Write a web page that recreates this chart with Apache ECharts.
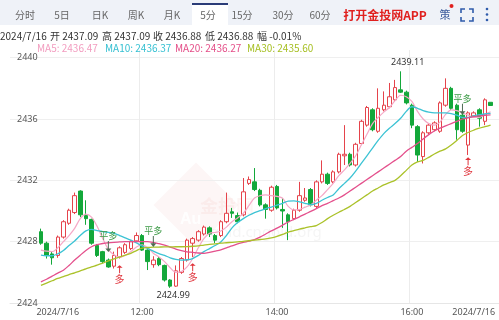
<!DOCTYPE html>
<html><head><meta charset="utf-8">
<script src="https://cdn.jsdelivr.net/npm/echarts@6/dist/echarts.min.js"></script>
<style>html,body{margin:0;padding:0;background:#fff}#c{width:499px;height:320px}</style>
</head><body><div id="c"></div>
<script>
// ---------- data ----------
const dateText = '2024/7/16';
const changeText = '-0.01%';
const startTime = [10, 30];           // first bar 10:30, 5-minute bars
const tickIndex = [3, 18, 42, 66, 77];
const tickText = ['2024/7/16', '12:00', '14:00', '16:00', '2024/7/16'];
const splitIndex = [18, 42, 66];
const yTicks = [2424, 2428, 2432, 2436, 2440];
const tabs = ['分时', '5日', '日K', '周K', '月K', '5分', '15分', '30分', '60分'];

// [open, close, low, high]
const ohlc = [
[2428.65,2427.9,2427.8,2428.85],[2427.9,2427.1,2426.9,2428.0],[2427.2,2426.95,2426.5,2427.35],
[2427.1,2428.3,2426.95,2428.4],[2428.3,2429.3,2428.2,2429.4],[2429.2,2430.05,2429.1,2430.15],
[2429.9,2431.0,2429.8,2431.2],[2431.3,2429.75,2429.6,2431.35],[2429.7,2429.5,2429.1,2430.7],
[2429.45,2427.9,2427.8,2429.5],[2427.75,2427.1,2427.0,2427.85],[2427.35,2426.7,2426.6,2427.4],
[2426.8,2426.35,2426.3,2426.9],[2426.4,2427.1,2426.25,2427.35],[2427.0,2427.6,2426.9,2427.7],
[2427.3,2427.8,2427.2,2427.9],[2427.55,2428.0,2427.45,2428.1],[2428.05,2428.4,2428.0,2428.6],
[2428.4,2427.45,2427.4,2428.5],[2427.45,2426.7,2426.15,2427.5],[2426.5,2426.8,2426.3,2427.05],
[2426.9,2426.5,2426.4,2427.0],[2426.45,2425.5,2425.4,2426.5],[2425.5,2425.1,2424.99,2425.55],
[2425.1,2426.1,2425.05,2426.45],[2426.0,2426.9,2425.9,2427.0],[2426.8,2428.1,2426.7,2428.2],
[2427.9,2428.2,2427.0,2428.3],[2428.1,2428.65,2428.0,2428.75],[2428.5,2428.95,2428.4,2429.05],
[2428.9,2428.5,2428.3,2429.0],[2428.4,2428.1,2427.9,2428.5],[2428.4,2429.3,2428.3,2429.4],
[2429.3,2429.85,2429.2,2431.2],[2429.95,2429.85,2429.55,2430.2],[2429.7,2429.3,2429.2,2429.9],
[2429.75,2431.25,2429.65,2432.15],[2431.8,2432.05,2431.7,2432.25],[2431.9,2431.4,2431.3,2432.8],
[2431.35,2430.4,2430.3,2431.45],[2430.4,2430.1,2429.5,2430.5],[2430.05,2431.55,2429.95,2431.65],
[2431.6,2430.2,2430.1,2431.7],[2430.1,2430.0,2428.9,2430.85],[2429.75,2429.3,2428.1,2429.85],
[2429.5,2430.05,2429.4,2430.15],[2430.05,2431.0,2429.95,2431.9],[2430.7,2430.85,2430.6,2431.5],
[2431.4,2430.4,2430.3,2431.5],[2430.3,2431.9,2430.2,2432.0],[2431.9,2432.4,2431.8,2433.3],
[2432.4,2431.8,2431.7,2432.5],[2431.9,2432.55,2431.8,2432.65],[2432.55,2433.7,2432.45,2433.8],
[2433.6,2433.7,2433.0,2435.6],[2433.7,2433.0,2432.9,2433.8],[2433.0,2434.35,2432.9,2434.45],
[2434.4,2435.85,2434.3,2435.95],[2435.6,2436.75,2435.5,2436.85],[2436.6,2435.3,2435.2,2436.7],
[2435.2,2436.7,2435.1,2438.0],[2436.6,2436.9,2436.5,2437.8],[2436.8,2437.45,2436.7,2438.35],
[2437.25,2438.05,2437.15,2438.55],[2437.9,2437.75,2437.7,2439.11],[2437.75,2437.05,2436.95,2437.85],
[2436.9,2435.6,2435.4,2437.0],[2435.5,2433.65,2433.2,2435.6],[2433.55,2435.1,2433.1,2435.2],
[2435.1,2435.6,2435.0,2435.7],[2435.3,2435.75,2435.2,2435.85],[2435.2,2437.05,2435.1,2437.15],
[2436.9,2438.0,2436.8,2438.65],[2438.0,2436.7,2436.6,2438.1],[2436.9,2435.3,2434.65,2437.0],
[2436.25,2435.2,2435.1,2436.35],[2434.3,2436.4,2433.65,2436.5],[2436.2,2436.4,2436.1,2436.5],
[2436.6,2436.05,2435.5,2436.7],[2435.85,2437.25,2435.6,2437.35],[2437.09,2436.88,2436.88,2437.09]
];

const ma5 = [2427.45,2427.38,2427.35,2427.6,2428.0,2428.4,2428.87,2429.5,2429.8,2429.6,
2429.0,2428.2,2427.5,2427.15,2427.0,2427.1,2427.35,2427.65,2427.8,2427.6,
2427.25,2427.0,2426.7,2426.3,2426.0,2426.05,2426.35,2426.9,2427.6,2428.2,
2428.55,2428.6,2428.7,2428.95,2429.3,2429.55,2429.85,2430.35,2430.85,2431.0,
2431.05,2431.0,2430.95,2430.83,2430.3,2430.07,2430.1,2430.25,2430.4,2430.7,
2431.0,2431.4,2431.8,2432.3,2432.68,2433.1,2433.6,2434.3,2435.0,2435.7,
2436.1,2436.45,2436.75,2437.2,2437.55,2437.45,2437.15,2436.5,2436.0,2435.7,
2435.6,2435.8,2436.3,2436.6,2436.55,2436.4,2436.25,2436.1,2436.1,2436.3,2436.47];

const ma10 = [2427.12,2427.08,2427.08,2427.2,2427.42,2427.75,2428.05,2428.4,2428.7,2428.8,
2428.72,2428.66,2428.6,2428.54,2428.4,2428.25,2428.1,2427.92,2427.72,2427.55,
2427.38,2427.22,2427.1,2426.95,2426.85,2426.8,2426.82,2426.9,2427.1,2427.35,
2427.55,2427.75,2427.98,2428.4,2428.9,2429.25,2429.5,2429.72,2429.9,2430.02,
2430.15,2430.26,2430.38,2430.5,2430.65,2430.66,2430.6,2430.5,2430.42,2430.5,
2430.7,2430.88,2431.05,2431.45,2431.8,2432.15,2432.6,2433.1,2433.6,2434.1,
2434.6,2435.05,2435.4,2435.7,2436.05,2436.5,2436.8,2436.7,2436.55,2436.45,
2436.4,2436.4,2436.4,2436.35,2436.25,2436.1,2436.1,2436.2,2436.28,2436.33,2436.37];

const ma20 = [2425.38,2425.55,2425.75,2425.95,2426.14,2426.45,2426.8,2427.12,2427.42,2427.67,
2427.8,2427.88,2427.93,2427.96,2427.98,2428.0,2428.0,2428.01,2428.0,2428.0,
2427.95,2427.87,2427.78,2427.65,2427.52,2427.42,2427.34,2427.3,2427.26,2427.24,
2427.3,2427.38,2427.47,2427.6,2427.72,2427.85,2427.95,2428.03,2428.13,2428.3,
2428.5,2428.7,2428.88,2429.08,2429.28,2429.45,2429.62,2429.8,2429.97,2430.15,
2430.35,2430.5,2430.68,2430.85,2431.05,2431.3,2431.55,2431.8,2432.05,2432.3,
2432.55,2432.8,2433.05,2433.3,2433.55,2433.9,2434.15,2434.4,2434.7,2434.98,
2435.22,2435.4,2435.55,2435.7,2435.85,2436.0,2436.08,2436.15,2436.2,2436.24,2436.27];

const ma30 = [2425.15,2425.3,2425.45,2425.6,2425.72,2425.85,2425.97,2426.1,2426.22,2426.35,
2426.47,2426.6,2426.75,2426.88,2427.0,2427.12,2427.24,2427.42,2427.58,2427.62,
2427.64,2427.65,2427.66,2427.66,2427.67,2427.67,2427.68,2427.7,2427.73,2427.78,
2427.82,2427.86,2427.9,2427.93,2427.96,2427.99,2428.02,2428.06,2428.1,2428.14,
2428.18,2428.25,2428.35,2428.47,2428.62,2428.72,2428.82,2428.9,2428.98,2429.05,
2429.25,2429.5,2429.72,2429.92,2430.1,2430.3,2430.55,2430.8,2431.05,2431.3,
2431.5,2431.7,2431.85,2432.0,2432.3,2432.65,2433.0,2433.2,2433.3,2433.5,
2433.72,2433.9,2434.05,2434.3,2434.6,2434.92,2435.12,2435.27,2435.4,2435.5,2435.6];

const signalIndex = [12, 14, 20, 27, 75, 76];
const signalText  = ['平多', '多', '平多', '多', '平多', '多'];
const signalPrice = [2427.32, 2426.47, 2427.65, 2426.6, 2436.27, 2433.5];

// ---------- build ----------
const PAD_L = 5, PAD_R = 1;
const n = ohlc.length;
const times = [];
for (let i = 0; i < n; i++) {
  const m = startTime[0] * 60 + startTime[1] + 5 * i;
  times.push(String(Math.floor(m / 60)).padStart(2, '0') + ':' + String(m % 60).padStart(2, '0'));
}
const cats = [];
for (let k = 0; k < PAD_L; k++) cats.push('padL' + k);
times.forEach(t => cats.push(t));
for (let k = 0; k < PAD_R; k++) cats.push('padR' + k);
const labelMap = {};
tickIndex.forEach((ix, k) => { labelMap[ix + PAD_L] = tickText[k]; });
const splitSet = new Set(splitIndex.map(ix => ix + PAD_L));

const candleData = ohlc.map((d, i) => [i + PAD_L, d[0], d[1], d[2], d[3]]);
const lineData = arr => arr.map((v, i) => [i + PAD_L, v]);

let hiI = 0, loI = 0;
ohlc.forEach((d, i) => { if (d[3] > ohlc[hiI][3]) hiI = i; if (d[2] < ohlc[loI][2]) loI = i; });

const downArrow = 'path://M4.4,0 L5.6,0 L5.6,10 L8.6,10 L5,15 L1.4,10 L4.4,10 Z';
const upArrow = 'path://M5,0 L8.6,5 L5.6,5 L5.6,15 L4.4,15 L4.4,5 L1.4,5 Z';
const signalPoints = signalIndex.map((ix, k) => {
  const isClose = signalText[k] === '平多';
  return {
    coord: [ix + PAD_L, signalPrice[k]],
    symbol: isClose ? downArrow : upArrow,
    symbolSize: isClose ? [6, 11] : [6, 8],
    symbolOffset: [0, isClose ? '-50%' : '50%'],
    itemStyle: { color: isClose ? '#4f6b55' : '#e0343c' },
    label: {
      show: true, formatter: signalText[k],
      position: isClose ? 'top' : 'bottom', distance: 1,
      color: isClose ? '#3b9a45' : '#e0343c', fontSize: isClose ? 9 : 10,
      fontFamily: 'Noto Sans CJK SC'
    }
  };
});
const extremePoints = [
  { coord: [hiI + PAD_L, ohlc[hiI][3]], symbol: 'circle', symbolSize: 0.1,
    label: { show: true, formatter: ohlc[hiI][3].toFixed(2), position: 'top', distance: 4, offset: [7, 0],
      color: '#333', fontSize: 9, fontFamily: 'Noto Sans' } },
  { coord: [loI + PAD_L, ohlc[loI][2]], symbol: 'circle', symbolSize: 0.1,
    label: { show: true, formatter: ohlc[loI][2].toFixed(2), position: 'bottom', distance: 3, offset: [3, 0],
      color: '#333', fontSize: 9, fontFamily: 'Noto Sans' } }
];

const CJK = '"Noto Sans CJK SC", "Noto Sans", sans-serif';
const last = ohlc[n - 1];
const graphics = [];
// tab bar
graphics.push({ type: 'rect', shape: { x: 0, y: 0, width: 499, height: 25 }, style: { fill: '#eff2f8' }, z: 10 });
graphics.push({ type: 'rect', shape: { x: 192, y: 4, width: 36, height: 21 }, style: { fill: '#ffffff' }, z: 11 });
graphics.push({ type: 'rect', shape: { x: 192, y: 3, width: 36, height: 2 }, style: { fill: '#2b3c78' }, z: 12 });
const tabX = [25, 62, 100, 136, 172, 208, 242, 283, 320];
tabs.forEach((t, k) => graphics.push({ type: 'text', x: tabX[k], y: 15, z: 12,
  style: { text: t, fill: '#666', font: '10px ' + CJK, align: 'center', verticalAlign: 'middle' } }));
graphics.push({ type: 'text', x: 385, y: 15, z: 12,
  style: { text: '打开金投网APP', fill: '#e0201e', font: 'bold 12px ' + CJK, align: 'center', verticalAlign: 'middle' } });
graphics.push({ type: 'text', x: 445, y: 15, z: 12,
  style: { text: '策', fill: '#3d5c9c', font: '11px ' + CJK, align: 'center', verticalAlign: 'middle' } });
graphics.push({ type: 'circle', shape: { cx: 451.5, cy: 6, r: 2 }, style: { fill: '#e0201e' }, z: 12 });
[[[461,13],[461,9],[465,9]], [[469,9],[473,9],[473,13]], [[461,17],[461,21],[465,21]], [[469,21],[473,21],[473,17]]]
  .forEach(pts => graphics.push({ type: 'polyline', shape: { points: pts }, style: { stroke: '#2f5bab', lineWidth: 1.6, fill: null }, z: 12 }));
[9, 14.5, 20].forEach(cy => graphics.push({ type: 'circle', shape: { cx: 487, cy: cy, r: 1.3 }, style: { fill: '#2f5bab' }, z: 12 }));
// info row
const info = [[dateText, 0], ['开 ' + last[0].toFixed(2), 50], ['高 ' + last[3].toFixed(2), 102],
  ['收 ' + last[1].toFixed(2), 153], ['低 ' + last[2].toFixed(2), 205], ['幅 ' + changeText, 257]];
info.forEach(([t, x]) => graphics.push({ type: 'text', x: x, y: 36, z: 12,
  style: { text: t, fill: '#333', font: '10px ' + CJK, verticalAlign: 'middle' } }));
const maInfo = [['MA5: ' + ma5[n - 1].toFixed(2), 37, '#f29cbf'], ['MA10: ' + ma10[n - 1].toFixed(2), 105, '#36c0d2'],
  ['MA20: ' + ma20[n - 1].toFixed(2), 175, '#e44e88'], ['MA30: ' + ma30[n - 1].toFixed(2), 247, '#a6bf22']];
maInfo.forEach(([t, x, c]) => graphics.push({ type: 'text', x: x, y: 48, z: 12,
  style: { text: t, fill: c, font: '10px ' + CJK, verticalAlign: 'middle' } }));
// watermark (faint)
graphics.push({ type: 'rect', shape: { x: -30, y: -30, width: 60, height: 60 }, x: 196, y: 205, rotation: Math.PI / 4,
  style: { fill: 'rgba(214,80,70,0.05)' }, z: 0 });
graphics.push({ type: 'text', x: 180, y: 220, z: 0, style: { text: 'Au', fill: 'rgba(255,255,255,0.9)', font: 'bold 16px Arial', verticalAlign: 'middle' } });
graphics.push({ type: 'text', x: 200, y: 206, z: 0, style: { text: '金投网', fill: 'rgba(214,80,70,0.06)', font: 'bold 18px ' + CJK, verticalAlign: 'middle' } });
graphics.push({ type: 'text', x: 210, y: 233, z: 0, style: { text: 'gold.cngold.org', fill: 'rgba(140,140,140,0.09)', font: '15px "Noto Sans"', verticalAlign: 'middle' } });

const chart = echarts.init(document.getElementById('c'), null, { renderer: 'canvas' });
chart.setOption({
  animation: false,
  backgroundColor: '#ffffff',
  graphic: { elements: graphics },
  grid: { left: 10, right: 0, top: 50, bottom: 17 },
  xAxis: {
    type: 'category', data: cats, boundaryGap: true,
    axisLine: { show: true, lineStyle: { color: '#e6e6e6' } },
    axisTick: { show: false },
    axisLabel: {
      interval: (i) => labelMap[i] !== undefined,
      formatter: (v, i) => labelMap[i] || '',
      color: '#555', fontSize: 9, fontFamily: 'Noto Sans', margin: 5
    },
    splitLine: { show: true, interval: (i) => splitSet.has(i), lineStyle: { color: '#ececec', width: 1 } }
  },
  yAxis: {
    type: 'value', min: yTicks[0], max: 2440.5, interval: 4, position: 'left',
    axisLine: { show: false }, axisTick: { show: false },
    axisLabel: { inside: true, margin: 7, color: '#555', fontSize: 9, fontFamily: 'Noto Sans',
      formatter: v => (yTicks.indexOf(v) >= 0 ? String(v) : ''), showMaxLabel: false },
    splitLine: { show: true, showMaxLine: false, lineStyle: { color: '#efefef' } }
  },
  series: [
    {
      type: 'candlestick', name: 'K',
      dimensions: ['x', 'open', 'close', 'lowest', 'highest'],
      encode: { x: 0, y: [1, 2, 3, 4] },
      data: candleData, barWidth: 4,
      itemStyle: { color: '#ffffff', borderColor: '#e5434b', color0: '#13a83a', borderColor0: '#13a83a', borderWidth: 1 },
      markPoint: { silent: true, data: signalPoints.concat(extremePoints) },
      z: 3
    },
    { type: 'line', name: 'MA5', data: lineData(ma5), smooth: 0.3, showSymbol: false, symbol: 'none', lineStyle: { color: '#f5a8c6', width: 1.2 }, z: 4 },
    { type: 'line', name: 'MA10', data: lineData(ma10), smooth: 0.3, showSymbol: false, symbol: 'none', lineStyle: { color: '#3cc3d4', width: 1.3 }, z: 4 },
    { type: 'line', name: 'MA20', data: lineData(ma20), smooth: 0.3, showSymbol: false, symbol: 'none', lineStyle: { color: '#e4508c', width: 1.3 }, z: 4 },
    { type: 'line', name: 'MA30', data: lineData(ma30), smooth: 0.3, showSymbol: false, symbol: 'none', lineStyle: { color: '#abc22a', width: 1.3 }, z: 4 }
  ]
});
</script>
</body></html>
